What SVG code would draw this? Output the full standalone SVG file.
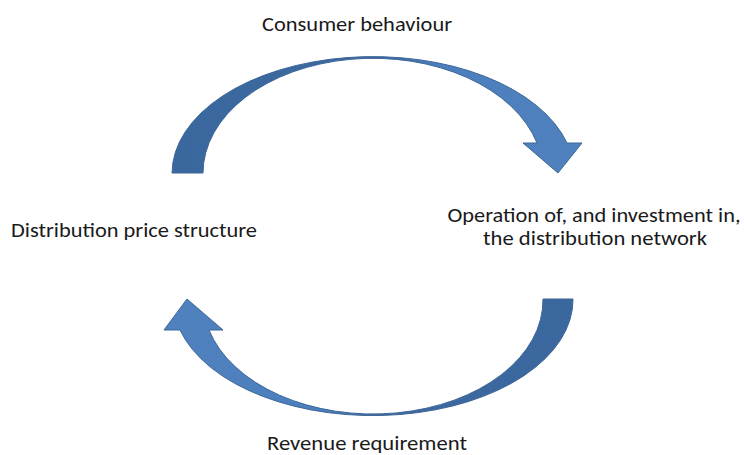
<svg xmlns="http://www.w3.org/2000/svg" width="745" height="455" viewBox="0 0 745 455">
  <style>
    .lbl { font-family: Carlito, "Liberation Sans", Arial, sans-serif; font-size: 20px; fill: #1a1a1a; }
    .arrow { stroke: #3d6698; stroke-width: 1; stroke-linejoin: miter; }
  </style>
  <defs>
    <linearGradient id="gTop" gradientUnits="userSpaceOnUse" x1="172" y1="0" x2="582" y2="0">
      <stop offset="0" stop-color="#3a679e"/>
      <stop offset="0.52" stop-color="#3c69a0"/>
      <stop offset="0.66" stop-color="#4c7fbe"/>
      <stop offset="1" stop-color="#4f81bd"/>
    </linearGradient>
    <linearGradient id="gBot" gradientUnits="userSpaceOnUse" x1="164" y1="0" x2="573" y2="0">
      <stop offset="0" stop-color="#4f81bd"/>
      <stop offset="0.38" stop-color="#4c7fbe"/>
      <stop offset="0.55" stop-color="#3c69a0"/>
      <stop offset="1" stop-color="#3a679e"/>
    </linearGradient>
  </defs>
  <rect width="745" height="455" fill="#ffffff"/>
  <g id="connectors">
    <path id="arrow-top" class="arrow" fill="url(#gTop)" d="M172,173 A201,117 0 0 1 567,143 L582,143 L558,173 L523,143 L537,143 A170,115 0 0 0 203,173 Z"/>
    <path id="arrow-bottom" class="arrow" fill="url(#gBot)" d="M573,299 A200,116 0 0 1 180,330 L164,330 L187,299 L223,330 L209,330 A170,114 0 0 0 543,299 Z"/>
  </g>
  <g id="node-consumer">
    <text class="lbl" x="357" y="31" text-anchor="middle" textLength="190" lengthAdjust="spacingAndGlyphs">Consumer behaviour</text>
  </g>
  <g id="node-price">
    <text class="lbl" x="11" y="237" textLength="246" lengthAdjust="spacingAndGlyphs">Distribution price structure</text>
  </g>
  <g id="node-network">
    <text class="lbl" x="594" y="222" text-anchor="middle" textLength="293" lengthAdjust="spacingAndGlyphs">Operation of, and investment in,</text>
    <text class="lbl" x="595" y="245" text-anchor="middle" textLength="224" lengthAdjust="spacingAndGlyphs">the distribution network</text>
  </g>
  <g id="node-revenue">
    <text class="lbl" x="367" y="450" text-anchor="middle" textLength="200" lengthAdjust="spacingAndGlyphs">Revenue requirement</text>
  </g>
</svg>
